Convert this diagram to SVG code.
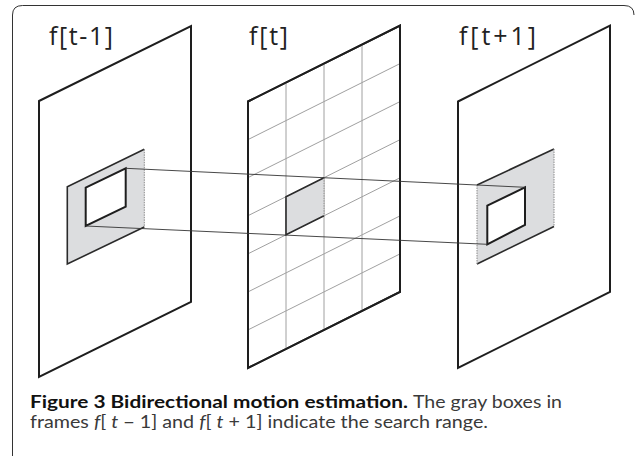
<svg xmlns="http://www.w3.org/2000/svg" width="635" height="456" viewBox="0 0 635 456">
<style>
.frame{fill:#fff;stroke:#1e1e1e;stroke-width:2;stroke-linejoin:miter}
.grid{stroke:#a0a0a0;stroke-width:1;fill:none}
.gray{fill:#dcdddf;stroke:none}
.edge{stroke:#2a2a2a;stroke-width:1.6;fill:none}
.soft{stroke:#8a8a8a;stroke-width:1;stroke-dasharray:1.5 1;fill:none}
.inner{fill:#fff;stroke:#1e1e1e;stroke-width:2}
.conn{stroke:#333;stroke-width:0.9;fill:none}
.lbl{font-family:"Open Sans","DejaVu Sans",sans-serif;font-size:25px;fill:#222}
.cap{font-family:Lato,"Open Sans",sans-serif;font-size:16.5px}
</style>
<path d="M12.5,456 V15 Q12.5,5.5 22.5,5.5 H624 Q634,5.5 634,15" fill="none" stroke="#333" stroke-width="1"/>

<g id="frame-t-minus-1">
  <polygon class="frame" points="39,101 191,26 191,302 39,377"/>
  <polygon class="gray" points="67.3,186.7 144.3,149.3 144.3,227 67.3,264"/>
  <polyline class="edge" points="144.3,149.3 67.3,186.7 67.3,264 144.3,227"/>
  <line class="soft" x1="144.3" y1="149.3" x2="144.3" y2="227"/>
  <polygon class="inner" points="85.7,187.7 125.7,168.3 125.7,206.7 85.7,226"/>
  <text class="lbl" x="49" y="44.5" textLength="64">f[t-1]</text>
</g>

<g id="frame-t">
  <polygon class="frame" points="248,101.5 400,25.5 400,292 248,368"/>
  <g class="grid">
    <line x1="286" y1="82.5" x2="286" y2="349"/>
    <line x1="324" y1="63.5" x2="324" y2="330"/>
    <line x1="362" y1="44.5" x2="362" y2="311"/>
    <line x1="248" y1="139.6" x2="400" y2="63.6"/>
    <line x1="248" y1="177.6" x2="400" y2="101.6"/>
    <line x1="248" y1="215.7" x2="400" y2="139.7"/>
    <line x1="248" y1="253.8" x2="400" y2="177.8"/>
    <line x1="248" y1="291.9" x2="400" y2="215.9"/>
    <line x1="248" y1="329.9" x2="400" y2="253.9"/>
  </g>
  <polygon class="gray" points="286,196.7 324,177.7 324,215.8 286,234.8"/>
  <polyline class="edge" points="324,177.7 286,196.7 286,234.8 324,215.8"/>
  <line class="soft" x1="324" y1="177.7" x2="324" y2="215.8"/>
  <polygon class="frame" points="248,101.5 400,25.5 400,292 248,368" style="fill:none"/>
  <text class="lbl" x="249" y="44.5" textLength="39">f[t]</text>
</g>

<g id="frame-t-plus-1">
  <polygon class="frame" points="458,101.5 610,25.5 610,292 458,368"/>
  <polygon class="gray" points="477,185 554,149 554,226.5 477,264"/>
  <polyline class="edge" points="477,185 554,149"/>
  <polyline class="edge" points="477,264 554,226.5"/>
  <line class="soft" x1="477" y1="185" x2="477" y2="264"/>
  <line class="soft" x1="554" y1="149" x2="554" y2="226.5"/>
  <polygon class="inner" points="487.3,205.7 525,187.3 525,225 487.3,244.3"/>
  <text class="lbl" x="459" y="44.5" textLength="77">f[t+1]</text>
</g>

<g id="connectors">
  <line class="conn" x1="125.7" y1="168.3" x2="525" y2="187.3"/>
  <line class="conn" x1="85.7" y1="226" x2="487.3" y2="244.3"/>
</g>

<g id="caption">
  <text class="cap" x="30" y="408" textLength="378" lengthAdjust="spacingAndGlyphs" font-weight="bold" fill="#111">Figure 3 Bidirectional motion estimation.</text>
  <text class="cap" x="413" y="408" textLength="149" lengthAdjust="spacingAndGlyphs" fill="#3a3a3a">The gray boxes in</text>
  <text class="cap" x="30" y="427.5" textLength="458" lengthAdjust="spacingAndGlyphs" fill="#3a3a3a">frames <tspan font-style="italic">f</tspan>[ <tspan font-style="italic">t</tspan> − 1] and <tspan font-style="italic">f</tspan>[ <tspan font-style="italic">t</tspan> + 1] indicate the search range.</text>
</g>
</svg>
